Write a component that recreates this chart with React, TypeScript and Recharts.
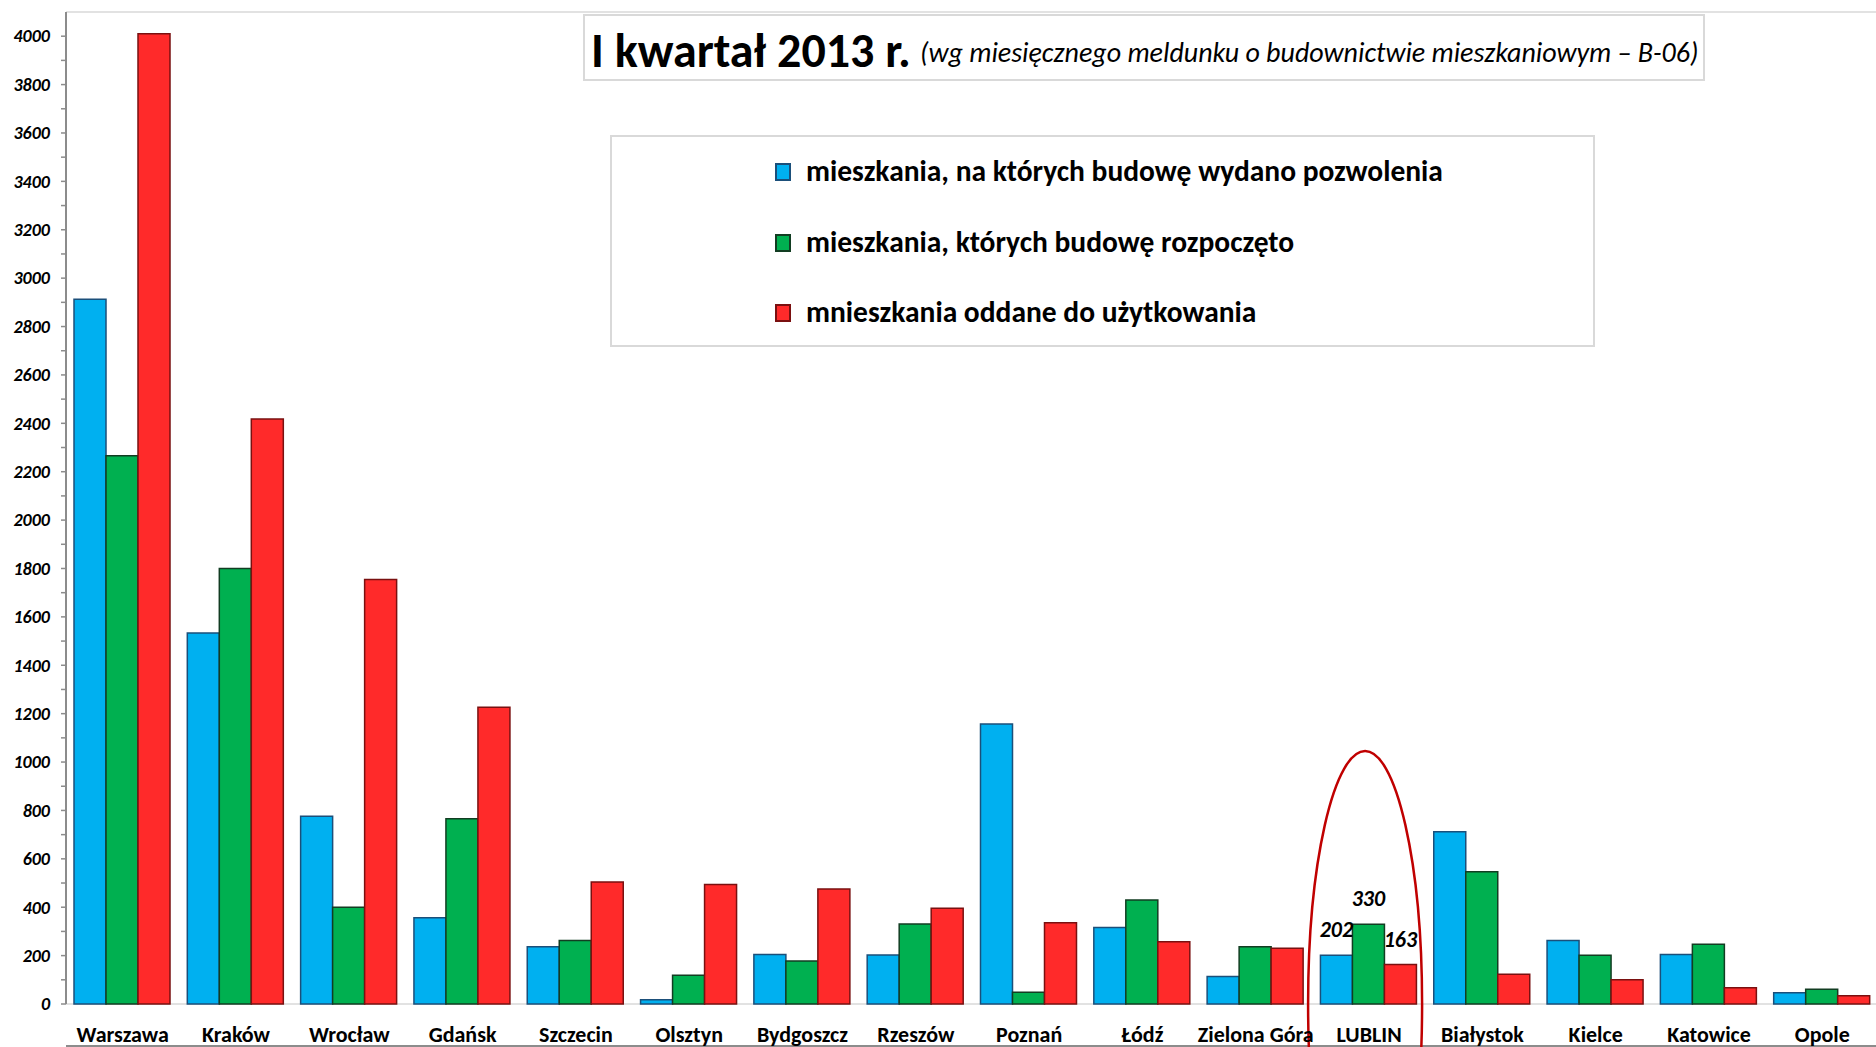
import React from 'react';
import { BarChart, Bar, XAxis, YAxis, CartesianGrid, Legend, LabelList, ReferenceDot } from 'recharts';

const categories = ['Warszawa', 'Kraków', 'Wrocław', 'Gdańsk', 'Szczecin', 'Olsztyn', 'Bydgoszcz', 'Rzeszów', 'Poznań', 'Łódź', 'Zielona Góra', 'LUBLIN', 'Białystok', 'Kielce', 'Katowice', 'Opole'];
const permits = [2913, 1533, 776, 356, 237, 18, 205, 203, 1157, 316, 114, 202, 712, 262, 205, 47];
const started = [2266, 1800, 400, 766, 262, 119, 178, 331, 49, 430, 237, 330, 547, 201, 247, 61];
const completed = [4010, 2418, 1755, 1226, 504, 494, 475, 396, 336, 257, 230, 163, 123, 100, 67, 34];

const seriesKeys = ['permits', 'started', 'completed'];
const seriesNames = [
  'mieszkania, na których budowę wydano pozwolenia',
  'mieszkania, których budowę rozpoczęto',
  'mnieszkania oddane do użytkowania',
];
const seriesColors = ['#00b0f0', '#00b050', '#ff2a2a'];
const seriesStrokes = ['#1b4f7a', '#123d22', '#7a1010'];

const yMinorTicks = Array.from({ length: 41 }, (_, i) => i * 100);
const yMajorTicks = Array.from({ length: 21 }, (_, i) => i * 200);
const boundaryTicks = Array.from({ length: categories.length + 1 }, (_, i) => i);
const highlighted = 'LUBLIN';
const titleMain = 'I kwartał 2013 r.';
const titleSub = '(wg miesięcznego meldunku o budownictwie mieszkaniowym – B-06)';

const FONT = "Carlito, 'Open Sans', sans-serif";

const data = categories.map((c, i) => ({
  city: c,
  permits: permits[i],
  started: started[i],
  completed: completed[i],
  permitsLabel: c === highlighted ? permits[i] : null,
  startedLabel: c === highlighted ? started[i] : null,
  completedLabel: c === highlighted ? completed[i] : null,
}));

const YTick = (props: any) => {
  const { x, y, payload } = props;
  if (payload.value % 200 !== 0) return null;
  return (
    <text x={x - 11} y={y} dy="0.35em" textAnchor="end" fontFamily={FONT} fontWeight={700} fontStyle="italic" fontSize={18} fill="#000">
      {payload.value}
    </text>
  );
};

const XTick = (props: any) => {
  const { x, y, payload } = props;
  return (
    <text x={x} y={y} dy={38} textAnchor="middle" fontFamily={FONT} fontWeight={700} fontSize={22} fill="#000">
      {payload.value}
    </text>
  );
};

const ValueLabel = (props: any) => {
  const { x, y, width, value } = props;
  if (value === null || value === undefined) return null;
  return (
    <text x={x + width / 2} y={y - 18} textAnchor="middle" fontFamily={FONT} fontWeight={700} fontStyle="italic" fontSize={22} fill="#000">
      {value}
    </text>
  );
};

const EllipseShape = (props: any) => {
  const { cx, cy } = props;
  return <ellipse cx={cx - 4} cy={cy} rx={57} ry={253} fill="none" stroke="#c00000" strokeWidth={2.5} />;
};

const LegendBox = () => (
  <div style={{ width: 985, height: 212, boxSizing: 'border-box', border: '2px solid #d9d9d9', background: '#fff', position: 'relative' }}>
    {seriesNames.map((name, i) => (
      <div key={name} style={{ position: 'absolute', left: 163, top: 35 + i * 70.5 - 18, height: 36, display: 'flex', alignItems: 'center', whiteSpace: 'nowrap' }}>
        <span style={{ display: 'inline-block', width: 12, height: 14, background: seriesColors[i], border: `2px solid ${seriesStrokes[i]}` }} />
        <span style={{ marginLeft: 15, fontFamily: FONT, fontWeight: 700, fontSize: 29.5, color: '#000', lineHeight: 1 }}>{name}</span>
      </div>
    ))}
  </div>
);

export default function App() {
  return (
    <div style={{ position: 'absolute', left: 0, top: 0, width: 1876, height: 1047, overflow: 'hidden', background: '#fff' }}>
      <BarChart
        width={1880}
        height={1047}
        data={data}
        margin={{ top: 12, right: 1, bottom: 0, left: 0 }}
        barCategoryGap={8}
        barGap={0}
      >
        <CartesianGrid yAxisId="grid" vertical={false} stroke="#d9d9d9" strokeWidth={1.5} />
        <XAxis
          xAxisId="b"
          type="number"
          domain={[0, categories.length]}
          ticks={boundaryTicks}
          interval={0}
          tick={false}
          tickSize={8}
          tickLine={{ stroke: '#8c8c8c', strokeWidth: 1.5 }}
          axisLine={{ stroke: '#8c8c8c', strokeWidth: 2 }}
          height={1}
        />
        <XAxis
          dataKey="city"
          type="category"
          axisLine={false}
          tickLine={false}
          tickSize={0}
          tickMargin={0}
          interval={0}
          height={42}
          tick={<XTick />}
        />
        <YAxis
          type="number"
          domain={[0, 4100]}
          ticks={yMinorTicks}
          interval={0}
          width={66}
          tickSize={5}
          tickMargin={0}
          tick={<YTick />}
          tickLine={{ stroke: '#8c8c8c', strokeWidth: 1.5 }}
          axisLine={{ stroke: '#8c8c8c', strokeWidth: 2 }}
        />
        <YAxis yAxisId="grid" type="number" domain={[0, 4100]} ticks={yMajorTicks} interval={0} hide />
        {seriesKeys.map((k, i) => (
          <Bar
            key={k}
            dataKey={k}
            name={seriesNames[i]}
            fill={seriesColors[i]}
            stroke={seriesStrokes[i]}
            strokeWidth={1.5}
            isAnimationActive={false}
          >
            <LabelList dataKey={`${k}Label`} content={<ValueLabel />} />
          </Bar>
        ))}
        <ReferenceDot x={highlighted} y={0} ifOverflow="visible" shape={<EllipseShape />} />
        <Legend
          layout="horizontal"
          verticalAlign="middle"
          align="center"
          content={<LegendBox />}
          wrapperStyle={{ position: 'absolute', left: 610, top: 135, width: 985, height: 212 }}
        />
      </BarChart>
      <div style={{ position: 'absolute', left: 583, top: 14, width: 1122, height: 67, boxSizing: 'border-box', border: '2px solid #d9d9d9', background: '#fff' }}>
        <span style={{ position: 'absolute', left: 6, top: 35, transform: 'translateY(-50%)', whiteSpace: 'nowrap', fontFamily: FONT, fontWeight: 700, fontSize: 48, color: '#000', lineHeight: 1 }}>{titleMain}</span>
        <span style={{ position: 'absolute', left: 335, top: 37, transform: 'translateY(-50%)', whiteSpace: 'nowrap', fontFamily: FONT, fontStyle: 'italic', fontSize: 28, color: '#000', lineHeight: 1 }}>{titleSub}</span>
      </div>
    </div>
  );
}
